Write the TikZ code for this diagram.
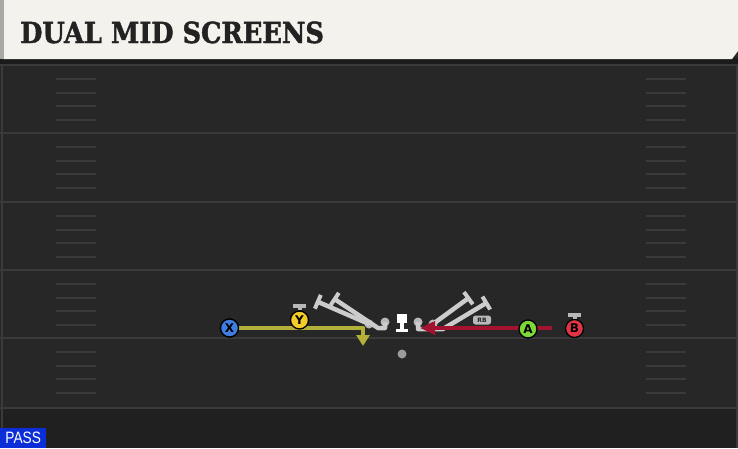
\documentclass[tikz,border=0pt]{standalone}
\usepackage{fontspec}
\usetikzlibrary{arrows.meta}
\newfontfamily\titlefont{DejaVu Serif}[BoldFeatures={FakeBold=1.6}]
\newfontfamily\labfont{DejaVu Sans}
\newfontfamily\passfont{Liberation Sans}
\definecolor{cream}{HTML}{F4F2EC}
\definecolor{strip}{HTML}{A8A8A4}
\definecolor{band}{HTML}{1B1B1B}
\definecolor{field}{HTML}{272727}
\definecolor{fieldlow}{HTML}{202020}
\definecolor{fline}{HTML}{3A3A3A}
\definecolor{titleink}{HTML}{222222}
\definecolor{passblue}{HTML}{0B2ED9}
\definecolor{xblue}{HTML}{3F7EE0}
\definecolor{yyellow}{HTML}{F3CB2A}
\definecolor{agreen}{HTML}{7DD93A}
\definecolor{bred}{HTML}{E23444}
\definecolor{yroutec}{HTML}{B3B03A}
\definecolor{rroutec}{HTML}{A3122E}
\definecolor{blkgray}{HTML}{CCCCCC}
\definecolor{dotgray}{HTML}{B8B8B8}
\definecolor{qbgray}{HTML}{9A9A9A}
\begin{document}
\begin{tikzpicture}[x=1pt,y=-1pt,
  player/.style={circle, draw=black, line width=1.3pt, minimum size=18pt, inner sep=0pt,
    font=\labfont\bfseries\fontsize{12}{12}\selectfont, text=black},
  lman/.style={circle, fill=dotgray, minimum size=9pt, inner sep=0pt},
  blk/.style={draw=blkgray, line width=4.5pt, line join=round, -{Bar[width=15pt,line width=4pt]}},
  markbar/.style={rectangle, fill=dotgray, minimum width=13pt, minimum height=4.5pt, inner sep=0pt},
  yroute/.style={draw=yroutec, line width=4.5pt, line join=round, -{Triangle[width=13pt,length=11pt]}},
  rroute/.style={draw=rroutec, line width=4.5pt, -{Triangle[width=13pt,length=15pt]}},
  hash/.style={draw=fline, line width=2pt},
  yardline/.style={draw=fline, line width=2.5pt}]
\useasboundingbox (0,0) rectangle (738,448);
% field
\fill[field] (0,0) rectangle (738,448);
\fill[fieldlow] (0,409) rectangle (738,448);
\fill[band] (0,58) rectangle (738,64);
\foreach \t in {65,133,202,270,338,408} {\draw[yardline] (0,\t) -- (738,\t);}
\foreach \t in {65,133,202,270,338} {
  \foreach \o in {14,28,41,55} {
    \draw[hash] (56,\t+\o) -- (96,\t+\o);
    \draw[hash] (646,\t+\o) -- (686,\t+\o);
  }
}
\draw[fline, line width=2pt] (1.5,64) -- (1.5,448);
\draw[fline, line width=2pt] (736.5,64) -- (736.5,448);
% header
\fill[cream] (3,0) -- (738,0) -- (738,51) -- (732,59) -- (3,59) -- cycle;
\fill[strip] (0,0) rectangle (4,59);
\node[anchor=base west, inner sep=0pt, text=titleink,
  font=\titlefont\bfseries\fontsize{29}{29}\selectfont] (title) at (20,43) {\scalebox{0.885}[1]{DUAL MID SCREENS}};
% pass tag
\node[anchor=south west, fill=passblue, text=white, minimum width=46pt, minimum height=20pt,
  inner sep=0pt, font=\passfont\fontsize{16.5}{16.5}\selectfont] (pass) at (0,448) {\scalebox{0.83}[1]{PASS}};
% linemen
\node[lman] (LT) at (369,324) {};
\node[lman] (LG) at (385,322) {};
\node[lman] (RG) at (418,322) {};
\node[lman] (RT) at (433,324) {};
\coordinate (tA) at (316,301);
\coordinate (tB) at (333,298);
\coordinate (tC) at (470,297);
\coordinate (tD) at (488,302);
\coordinate (lgk1) at (385,328);
\coordinate (lgk2) at (378,328);
\coordinate (rgk1) at (418,329);
\coordinate (rgk2) at (443,329);
\draw[blk] (LT.center) -- (tA);
\draw[blk] (LG.center) -- (lgk1) -- (lgk2) -- (tB);
\draw[blk] (RT.center) -- (tC);
\draw[blk] (RG.center) -- (rgk1) -- (rgk2) -- (tD);
\node[rectangle, rounded corners=2.5pt, fill=dotgray, minimum width=18pt, minimum height=9pt, inner sep=0pt,
  text=titleink, font=\labfont\bfseries\fontsize{6}{6}\selectfont] (RB) at (482,320) {RB};
% center
\node[rectangle, fill=white, minimum width=10pt, minimum height=9pt, inner sep=0pt] (C) at (402,318) {};
\node[rectangle, fill=white, minimum width=12pt, minimum height=3.5pt, inner sep=0pt] (Cbase) at (402,330.5) {};
\draw[white, line width=3.5pt] (C.south) -- (Cbase.north);
\node[circle, fill=qbgray, minimum size=9pt, inner sep=0pt] (QB) at (402,354) {};
% routes
\coordinate (ycorner) at (363,328);
\coordinate (yend) at (363,346);
\coordinate (rstart) at (552,328);
\coordinate (rend) at (420,328);
\node[player, fill=xblue] (X) at (229.5,328) {X};
\draw[yroute] (X.east) -- (ycorner) -- (yend);
\draw[rroute] (rstart) -- (rend);
% players
\node[player, fill=xblue] at (X) {X};
\node[markbar] (Ytop) at (299.5,306) {};
\node[player, fill=yyellow] (Y) at (299.5,320) {Y};
\draw[dotgray, line width=4pt] (Ytop.south) -- (Y.north);
\node[player, fill=agreen] (A) at (528,329) {A};
\node[markbar] (Btop) at (574.5,315) {};
\node[player, fill=bred] (B) at (574.5,328.5) {B};
\draw[dotgray, line width=4pt] (Btop.south) -- (B.north);
\end{tikzpicture}
\end{document}
